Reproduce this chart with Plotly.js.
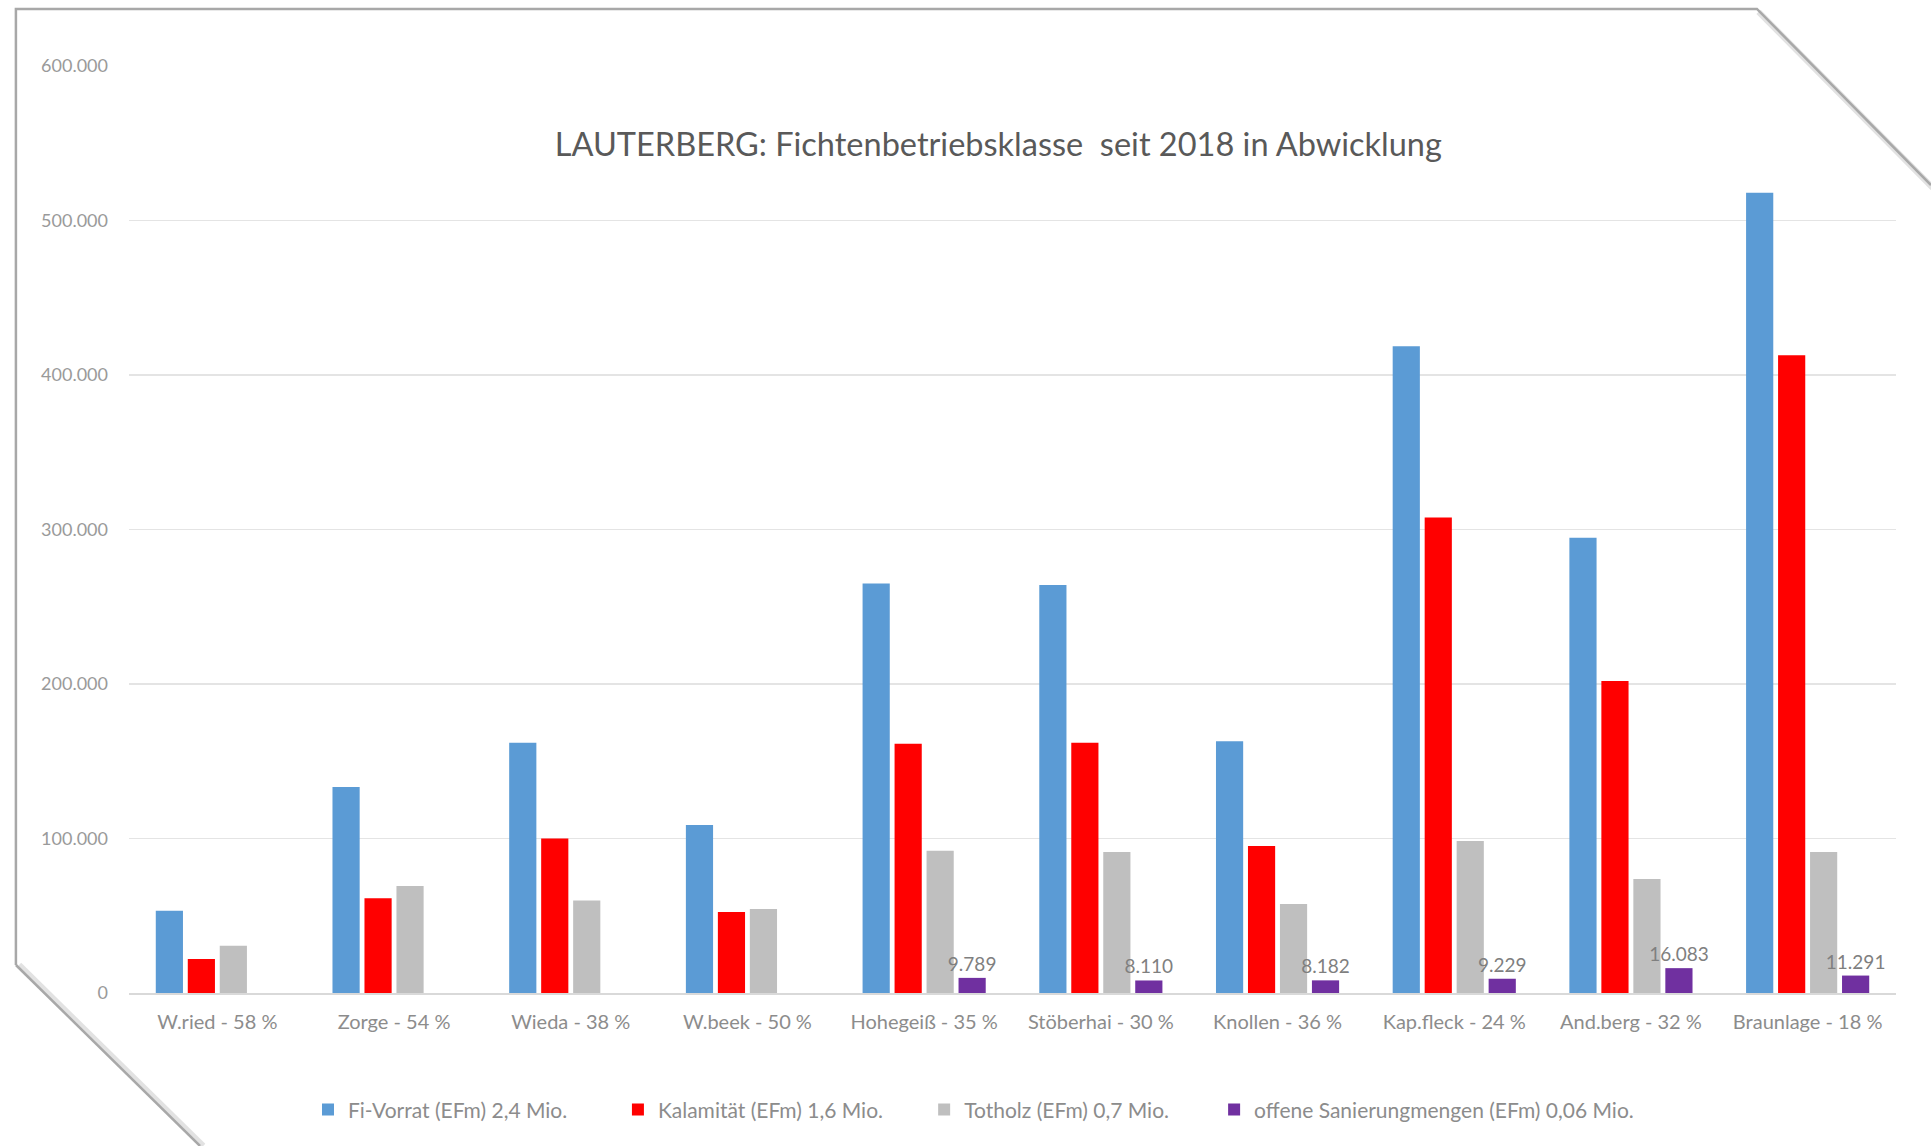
<!DOCTYPE html>
<html>
<head>
<meta charset="utf-8">
<script src="https://cdn.plot.ly/plotly-3.0.1.min.js"></script>
<style>
  html, body { margin: 0; padding: 0; background: #ffffff; }
  #chart { width: 1931px; height: 1146px; }
</style>
</head>
<body>
<div id="chart"></div>
<script>
// ---- data ----
const categories = ["W.ried - 58 %", "Zorge - 54 %", "Wieda - 38 %", "W.beek - 50 %", "Hohegeiß - 35 %",
                    "Stöberhai - 30 %", "Knollen - 36 %", "Kap.fleck - 24 %", "And.berg - 32 %", "Braunlage - 18 %"];
const fiVorrat   = [53300, 133400, 162000, 108800, 265000, 264000, 163000, 418600, 294700, 518000];
const kalamitaet = [22000, 61300, 100000, 52500, 161400, 162000, 95200, 307800, 202000, 412800];
const totholz    = [30600, 69300, 59800, 54400, 92000, 91300, 57600, 98400, 73800, 91300];
const offene     = [null, null, null, null, 9789, 8110, 8182, 9229, 16083, 11291];
const seriesNames = ["Fi-Vorrat (EFm) 2,4 Mio.", "Kalamität (EFm) 1,6 Mio.", "Totholz (EFm) 0,7 Mio.",
                     "offene Sanierungmengen (EFm) 0,06 Mio."];
const yTickVals = [0, 100000, 200000, 300000, 400000, 500000, 600000];
const yTickText = ["0", "100.000", "200.000", "300.000", "400.000", "500.000", "600.000"];
const titleText = "LAUTERBERG: Fichtenbetriebsklasse&nbsp; seit 2018 in Abwicklung";

const colors = ["#5B9BD5", "#FF0000", "#BFBFBF", "#7030A0"];
const FONT = "Lato, 'Open Sans', sans-serif";
const legendIds = ["legend", "legend2", "legend3", "legend4"];
const legendX = [0.1013, 0.2767, 0.4500, 0.6141];

function bar(y, i, withText) {
  const t = {
    type: "bar", x: categories, y: y, name: seriesNames[i],
    marker: { color: colors[i] },
    legend: legendIds[i],
    hoverinfo: "skip"
  };
  if (withText) {
    t.texttemplate = "%{y:,}";
    t.textposition = "outside";
    t.constraintext = "none";
    t.textfont = { family: FONT, size: 19, color: "#7f7f7f" };
    t.cliponaxis = false;
  }
  return t;
}

const data = [
  bar(fiVorrat, 0, false),
  bar(kalamitaet, 1, false),
  bar(totholz, 2, false),
  bar(offene, 3, true)
];

// frame geometry (paper coords)
const frameColor = "#a8a8a8";
const shapes = [
  { type: "path", xref: "paper", yref: "paper", layer: "above",
    path: "M 0.9213,1.0615 L 1.0198,0.8716 L 1.03,0.8716 L 1.03,1.07 Z",
    fillcolor: "#ffffff", line: { width: 0 } },
  { type: "path", xref: "paper", yref: "paper", layer: "above",
    path: "M 0.9222,1.0585 L 1.0208,0.8686", line: { color: "#e2e2e2", width: 6 } },
  { type: "path", xref: "paper", yref: "paper", layer: "above",
    path: "M -0.0622,0.0302 L 0.0420,-0.165", line: { color: "#e2e2e2", width: 6 } },
  { type: "path", xref: "paper", yref: "paper", layer: "above",
    path: "M -0.0640,0.0302 L -0.0640,1.0615 L 0.9213,1.0615 L 1.0198,0.8716",
    line: { color: frameColor, width: 2.5 } },
  { type: "path", xref: "paper", yref: "paper", layer: "above",
    path: "M -0.0640,0.0302 L 0.0402,-0.165",
    line: { color: frameColor, width: 2.5 } }
];

function legendCfg(x) {
  return {
    orientation: "h", x: x, xanchor: "left", y: -0.126, yanchor: "middle",
    font: { family: FONT, size: 21, color: "#8c8c8c" },
    itemwidth: 30, bgcolor: "rgba(0,0,0,0)"
  };
}

const layout = {
  width: 1931, height: 1146,
  margin: { l: 129, r: 35, t: 66, b: 153, pad: 0 },
  paper_bgcolor: "#ffffff", plot_bgcolor: "#ffffff",
  separators: ",.",
  font: { family: FONT, color: "#8c8c8c" },
  title: {
    text: titleText,
    x: 0.517, xanchor: "center", y: 0.874, yanchor: "middle",
    font: { family: FONT, size: 32.5, color: "#595959" }
  },
  barmode: "group",
  bargap: 0.276,
  bargroupgap: 0.15,
  xaxis: {
    type: "category",
    range: [-0.5, 9.5],
    showgrid: false, zeroline: false,
    showline: true, linecolor: "#d9d9d9", linewidth: 1.5,
    ticks: "", tickfont: { family: FONT, size: 20, color: "#8c8c8c" },
    ticklabelstandoff: 10
  },
  yaxis: {
    range: [0, 600000],
    tickvals: yTickVals, ticktext: yTickText,
    showgrid: true, gridcolor: "#e4e4e4", gridwidth: 1.2,
    zeroline: false, showline: false, ticks: "",
    tickfont: { family: FONT, size: 18, color: "#9a9a9a" },
    ticklabelstandoff: 20
  },
  showlegend: true,
  legend: legendCfg(legendX[0]),
  legend2: legendCfg(legendX[1]),
  legend3: legendCfg(legendX[2]),
  legend4: legendCfg(legendX[3]),
  shapes: shapes
};

Plotly.newPlot("chart", data, layout, { displayModeBar: false, staticPlot: true });
</script>
</body>
</html>
